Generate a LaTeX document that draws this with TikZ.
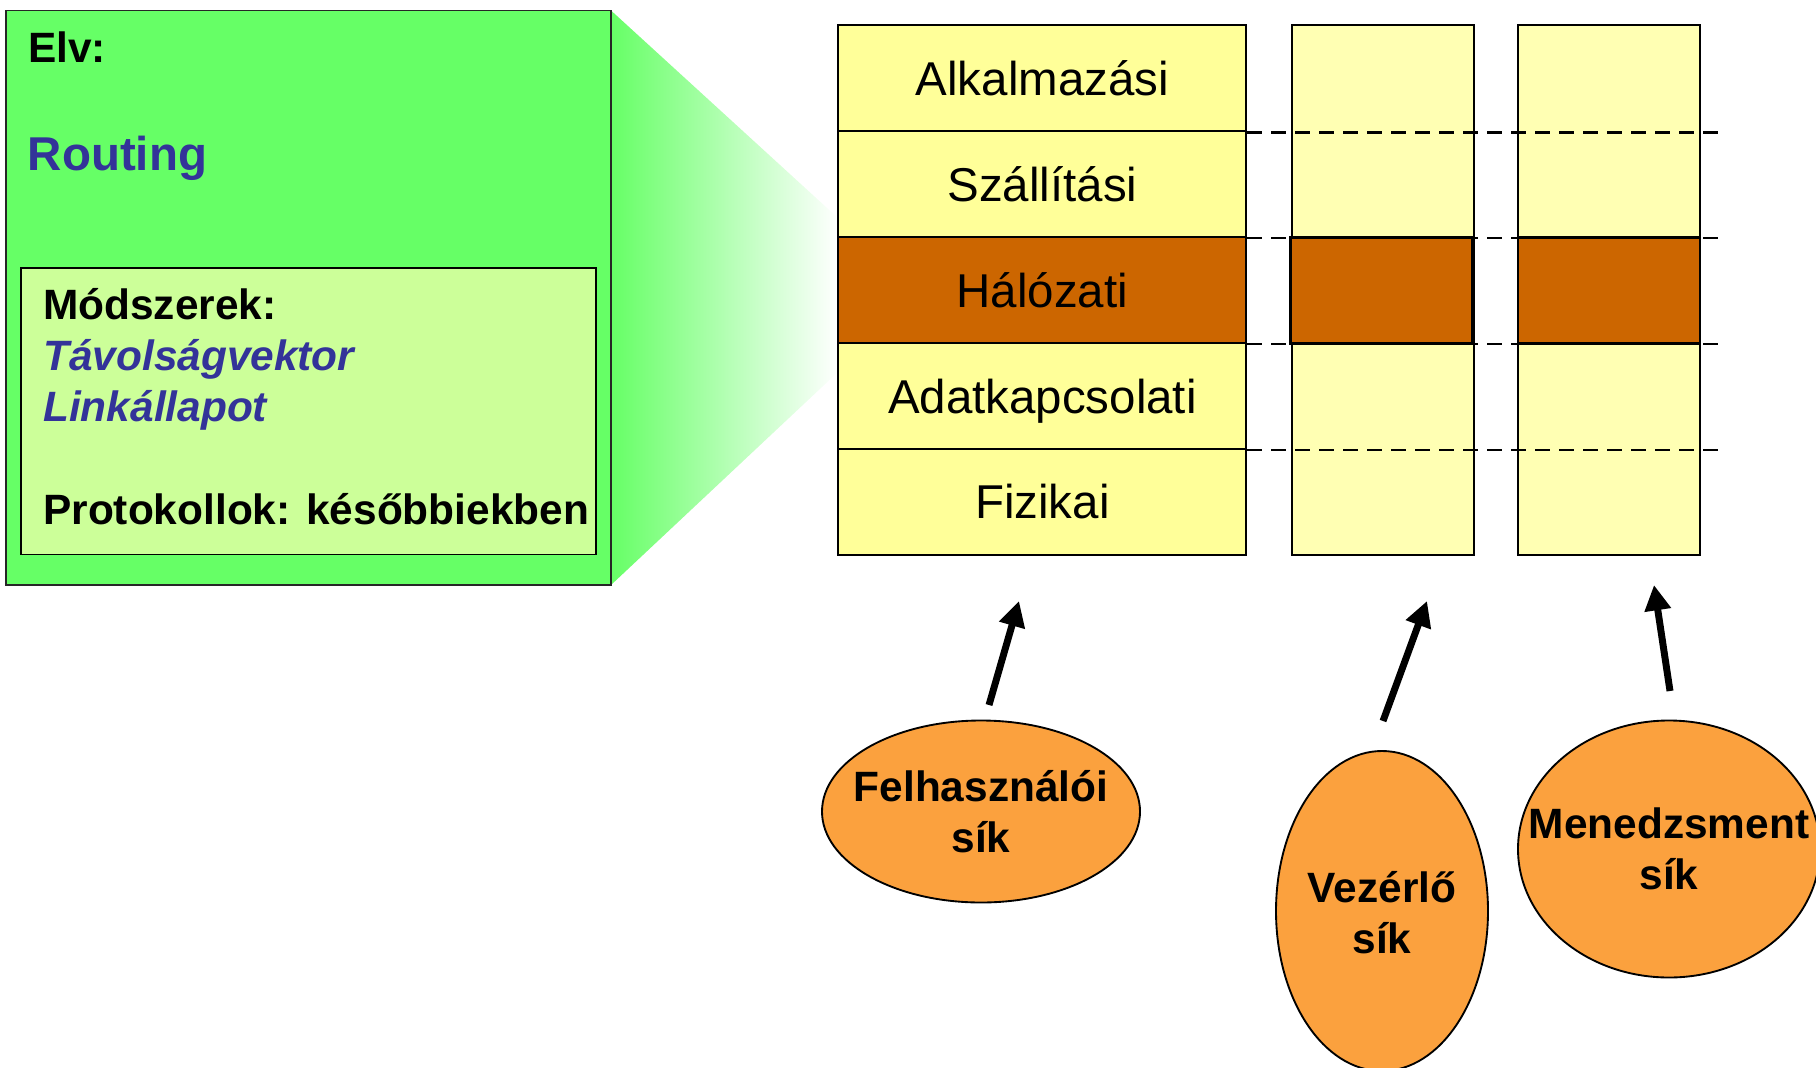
\documentclass[tikz,border=0pt]{standalone}
\usepackage{fontspec}
\setmainfont{Liberation Sans}
\usetikzlibrary{arrows.meta,shapes.geometric}
\definecolor{panelgreen}{HTML}{66FF66}
\definecolor{innergreen}{HTML}{CCFF99}
\definecolor{layeryellow}{HTML}{FFFF99}
\definecolor{planeyellow}{HTML}{FFFFB3}
\definecolor{netorange}{HTML}{CC6600}
\definecolor{ovalorange}{RGB}{251,161,62}
\definecolor{textblue}{HTML}{333399}

\begin{document}
\begin{tikzpicture}[x=0.75pt,y=-0.75pt,
  boldtxt/.style={inner sep=0pt, anchor=base west,
    font=\fontsize{31.8pt}{38.25pt}\selectfont\bfseries},
  bigtxt/.style={font=\fontsize{35.6pt}{42pt}\selectfont\bfseries},
  layer/.style={draw=black, line width=1.5pt, fill=layeryellow,
    minimum width=305.8pt, minimum height=79.4pt, inner sep=0pt,
    text height=25.6pt, text depth=0pt,
    font=\fontsize{35.6pt}{42pt}\selectfont},
  planecol/.style={draw=black, line width=1.5pt, fill=planeyellow,
    minimum width=136.5pt, minimum height=397pt, inner sep=0pt},
  netband/.style={draw=black, line width=2.2pt, fill=netorange,
    minimum width=136.5pt, minimum height=79.4pt, inner sep=0pt},
  sepline/.style={draw=black, line width=1.9pt, dash pattern=on 11pt off 7pt},
  pointer/.style={line width=5.2pt, -{Triangle[length=19pt,width=19pt]}},
  oval/.style={ellipse, draw=black, line width=1.4pt, fill=ovalorange, inner sep=0pt},
  ovaltext/.style={inner sep=0pt, align=center,
    font=\fontsize{31.8pt}{38.25pt}\selectfont\bfseries}
]
\useasboundingbox (0,0) rectangle (1816,1067);
\clip (0,0) rectangle (1816,1067);

% zoom funnel between the panel and the layer stack
\coordinate (ftl) at (611,10.5);
\coordinate (fbl) at (611,585);
\coordinate (ftr) at (838,218);
\coordinate (fbr) at (838,372);
\shade[left color=panelgreen, right color=white] (ftl) -- (ftr) -- (fbr) -- (fbl) -- cycle;

% left panel
\node[draw=black!85, line width=1.1pt, fill=panelgreen,
  minimum width=453.8pt, minimum height=430.9pt, inner sep=0pt] (panel) at (308.45,297.75) {};
\node[draw=black, line width=1.4pt, fill=innergreen,
  minimum width=431.25pt, minimum height=215.1pt, inner sep=0pt] (methods) at (308.5,411.1) {};

\node[boldtxt] (elv) at (28,62.3) {Elv:};
\node[boldtxt, bigtxt, text=textblue] (routing) at (27.5,170) {Routing};
\node[boldtxt] (modsz) at (43,319) {Módszerek:};
\node[boldtxt, text=textblue] (tav) at (43,370) {\itshape Távolságvektor};
\node[boldtxt, text=textblue] (link) at (43,421.8) {\itshape Linkállapot};
\node[boldtxt] (proto) at (43,524) {Protokollok: későbbiekben};

% protocol layer stack
\node[layer] (alk) at (1042.35,78.43) {Alkalmazási};
\node[layer] (szall) at (1042.35,184.29) {Szállítási};
\node[layer, fill=netorange] (hal) at (1042.35,290.15) {Hálózati};
\node[layer] (adat) at (1042.35,396.01) {Adatkapcsolati};
\node[layer] (fiz) at (1042.35,501.87) {Fizikai};

% control and management plane columns
\node[planecol] (ctlcol) at (1382.5,290.15) {};
\node[planecol] (mgmtcol) at (1609.25,290.15) {};
\node[netband] (ctlnet) at (1381.8,290.15) {};
\node[netband] (mgmtnet) at (1609.0,290.15) {};

% layer boundaries carried across the planes
\coordinate (dashend) at (1723,0);
\draw[sepline] (alk.south east) -- (alk.south east -| dashend);
\draw[sepline] (szall.south east) -- (szall.south east -| dashend);
\draw[sepline] (hal.south east) -- (hal.south east -| dashend);
\draw[sepline] (adat.south east) -- (adat.south east -| dashend);

% planes
\node[oval, minimum width=238.5pt, minimum height=136.5pt] (fel) at (981,811.5) {};
\node[oval, minimum width=159pt, minimum height=240pt] (vez) at (1382,911) {};
\node[oval, minimum width=226.5pt, minimum height=192.75pt] (men) at (1669,849) {};
\node[ovaltext] (feltext) at (fel.center) {Felhasználói\\sík};
\node[ovaltext] (veztext) at ([yshift=-1pt]vez.center) {Vezérlő\\sík};
\node[ovaltext] (mentext) at (men.center) {Menedzsment\\sík};

% arrows from the planes
\coordinate (feltail) at (989,705);
\coordinate (feltip) at (1019,601);
\coordinate (veztail) at (1383,721);
\coordinate (veztip) at (1427,601);
\coordinate (mentail) at (1670,691);
\coordinate (mentip) at (1654,585);
\draw[pointer] (feltail) -- (feltip);
\draw[pointer] (veztail) -- (veztip);
\draw[pointer] (mentail) -- (mentip);
\end{tikzpicture}
\end{document}
